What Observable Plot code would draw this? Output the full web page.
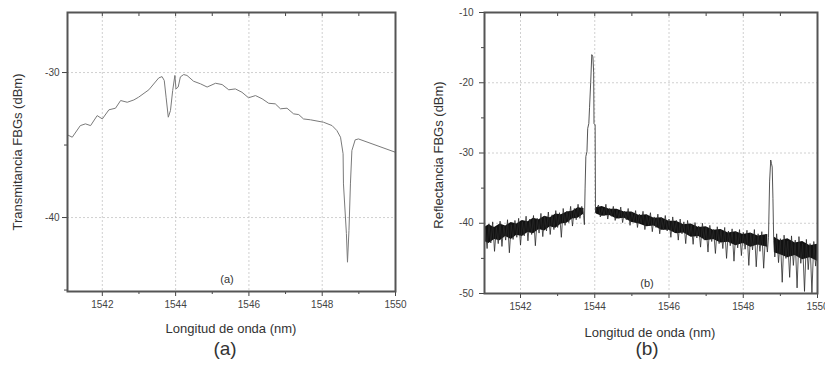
<!DOCTYPE html>
<html><head><meta charset="utf-8">
<script src="https://cdn.jsdelivr.net/npm/d3@7"></script>
<script src="https://cdn.jsdelivr.net/npm/@observablehq/plot@0.6"></script>
<style>
html,body{margin:0;padding:0;background:#fff}
body{width:825px;height:365px;overflow:hidden;position:relative;font-family:"Liberation Sans",Arial,sans-serif}
.panel{position:absolute;top:0}
.lab{position:absolute;color:#333;white-space:nowrap;transform:translate(-50%,-50%)}
.rot{transform:translate(-50%,-50%) rotate(-90deg)}
</style></head><body>
<div id="pa" class="panel" style="left:0px"></div>
<div id="pb" class="panel" style="left:405px"></div>
<div class="lab" style="left:227px;top:279px;font-size:11px">(a)</div>
<div class="lab" style="left:231px;top:328px;font-size:13px">Longitud de onda (nm)</div>
<div class="lab" style="left:225px;top:349px;font-size:19px">(a)</div>
<div class="lab rot" style="left:17px;top:152px;font-size:13px">Transmitancia FBGs (dBm)</div>
<div class="lab" style="left:647px;top:283px;font-size:11px">(b)</div>
<div class="lab" style="left:650px;top:332px;font-size:13px">Longitud de onda (nm)</div>
<div class="lab" style="left:647px;top:349px;font-size:19px">(b)</div>
<div class="lab rot" style="left:438px;top:155px;font-size:13px">Reflectancia FBGs (dBm)</div>
<script>
// ---- Panel (a): transmission spectrum ----
const transWl = [1541.05,1541.18,1541.40,1541.54,1541.68,1541.86,1542.00,1542.18,1542.36,1542.50,
  1542.68,1542.86,1542.99,1543.27,1543.54,1543.63,1543.69,1543.74,1543.80,1543.86,
  1543.92,1543.98,1544.01,1544.07,1544.13,1544.22,1544.31,1544.49,1544.68,1544.86,
  1545.09,1545.27,1545.45,1545.63,1545.81,1545.99,1546.18,1546.36,1546.54,1546.72,
  1546.86,1547.04,1547.22,1547.36,1547.49,1547.68,1548.04,1548.27,1548.40,1548.50,
  1548.57,1548.58,1548.66,1548.69,1548.73,1548.77,1548.81,1548.90,1548.99,1550.00];
const transDbm = [-34.3,-34.46,-33.66,-33.54,-33.66,-32.97,-33.2,-32.57,-32.46,-31.93,
  -32.05,-31.89,-31.7,-31.19,-30.37,-30.28,-30.55,-31.7,-33.08,-32.62,
  -31.24,-30.2,-31.13,-31.0,-30.3,-30.14,-30.2,-30.6,-30.78,-31.0,
  -30.74,-30.83,-31.19,-31.13,-31.36,-31.74,-31.59,-31.81,-32.12,-32.16,
  -32.5,-32.46,-32.85,-32.9,-33.2,-33.26,-33.43,-33.66,-34.0,-34.46,
  -35.6,-37.68,-41.1,-43.08,-40.9,-37.68,-35.38,-34.64,-34.58,-35.5];

// ---- Panel (b): reflection spectrum (noisy trace) ----
const reflWl = [
  1541.00,1541.05,1541.10,1541.15,1541.20,1541.25,1541.30,1541.35,1541.40,1541.45,
  1541.50,1541.55,1541.60,1541.65,1541.70,1541.75,1541.80,1541.85,1541.90,1541.95,
  1542.00,1542.05,1542.10,1542.15,1542.20,1542.25,1542.30,1542.35,1542.40,1542.45,
  1542.50,1542.55,1542.60,1542.65,1542.70,1542.75,1542.80,1542.85,1542.90,1542.95,
  1543.00,1543.05,1543.10,1543.15,1543.20,1543.25,1543.30,1543.35,1543.40,1543.45,
  1543.50,1543.55,1543.60,1543.65,1543.70,
  1543.72,1543.74,1543.76,1543.79,1543.81,1543.84,1543.86,1543.89,1543.92,1543.95,
  1543.97,1543.98,1544.01,1544.02,1544.05,
  1544.10,1544.15,1544.20,1544.25,1544.30,1544.35,1544.40,1544.45,1544.50,1544.55,
  1544.60,1544.65,1544.70,1544.75,1544.80,1544.85,1544.90,1544.95,1545.00,1545.05,
  1545.10,1545.15,1545.20,1545.25,1545.30,1545.35,1545.40,1545.45,1545.50,1545.55,
  1545.60,1545.65,1545.70,1545.75,1545.80,1545.85,1545.90,1545.95,1546.00,1546.05,
  1546.10,1546.15,1546.20,1546.25,1546.30,1546.35,1546.40,1546.45,1546.50,1546.55,
  1546.60,1546.65,1546.70,1546.75,1546.80,1546.85,1546.90,1546.95,1547.00,1547.05,
  1547.10,1547.15,1547.20,1547.25,1547.30,1547.35,1547.40,1547.45,1547.50,1547.55,
  1547.60,1547.65,1547.70,1547.75,1547.80,1547.85,1547.90,1547.95,1548.00,1548.05,
  1548.10,1548.15,1548.20,1548.25,1548.30,1548.35,1548.40,1548.45,1548.50,1548.55,
  1548.60,1548.65,
  1548.68,1548.71,1548.74,1548.76,1548.78,1548.80,1548.82,1548.85,
  1548.90,1548.95,1549.00,1549.05,1549.10,1549.15,1549.20,1549.25,1549.30,1549.35,
  1549.40,1549.45,1549.50,1549.55,1549.60,1549.65,1549.70,1549.75,1549.80,1549.85,
  1549.90,1549.95,1550.00];
const reflDbm = [
  -44.8,-40.9,-43.6,-40.1,-42.8,-39.8,-44.0,-40.6,-42.9,-39.7,
  -43.3,-40.4,-42.4,-39.5,-44.2,-40.2,-42.3,-39.6,-42.0,-39.3,
  -43.1,-39.8,-41.8,-39.0,-42.5,-39.4,-41.6,-38.9,-43.2,-39.3,
  -41.4,-38.6,-41.9,-39.0,-41.1,-38.4,-41.6,-38.8,-40.9,-38.2,
  -40.6,-38.5,-42.0,-37.9,-40.3,-38.3,-39.9,-37.6,-40.4,-37.9,
  -39.5,-37.3,-39.3,-37.6,-38.9,
  -40.2,-35.0,-30.5,-29.8,-26.5,-25.8,-23.5,-20.0,-16.0,-16.3,
  -18.5,-25.8,-26.0,-38.5,-37.9,
  -37.4,-39.1,-37.8,-38.9,-37.3,-39.4,-37.9,-39.0,-37.6,-39.6,
  -38.1,-39.3,-37.7,-39.9,-38.3,-39.5,-37.9,-40.3,-38.4,-39.8,
  -38.2,-40.6,-38.7,-40.0,-38.3,-40.9,-38.8,-40.3,-38.5,-41.2,
  -39.1,-40.6,-38.7,-41.5,-39.2,-40.9,-38.9,-41.1,-39.4,-42.0,
  -39.1,-41.3,-39.6,-42.4,-39.4,-41.5,-39.8,-42.9,-39.6,-41.8,
  -40.2,-43.0,-39.9,-42.1,-40.4,-43.4,-40.0,-42.4,-40.6,-44.1,
  -40.3,-42.6,-40.9,-44.3,-40.5,-42.9,-41.0,-43.6,-40.6,-45.0,
  -41.1,-43.2,-40.8,-45.4,-41.2,-43.5,-40.9,-44.6,-41.3,-43.7,
  -41.0,-46.0,-41.4,-43.8,-40.9,-46.2,-41.5,-44.0,-41.2,-46.4,
  -41.6,-44.1,
  -42.0,-34.0,-31.0,-31.5,-32.0,-36.5,-42.5,-44.8,
  -41.5,-45.6,-42.2,-48.4,-41.7,-45.0,-42.5,-47.7,-41.8,-46.0,
  -42.4,-49.2,-41.9,-45.7,-42.9,-49.7,-42.3,-46.6,-42.9,-49.9,
  -42.6,-46.1,-43.4];

// dense core of the noise band in (b): upper / lower envelope
const bandWl = [1541.03,1541.15,1541.3,1541.45,1541.6,1541.75,1541.9,1542.05,1542.2,1542.35,
  1542.5,1542.65,1542.8,1542.95,1543.1,1543.25,1543.4,1543.55,1543.71,
  1544.04,1544.2,1544.4,1544.6,1544.8,1545.0,1545.2,1545.4,1545.6,1545.8,
  1546.0,1546.2,1546.4,1546.6,1546.8,1547.0,1547.2,1547.4,1547.6,1547.8,
  1548.0,1548.2,1548.4,1548.66,
  1548.84,1549.0,1549.2,1549.4,1549.6,1549.8,1550.0];
const bandUpper = [-40.6,-40.2,-40.6,-40.1,-40.4,-39.9,-40.1,-39.6,-39.8,-39.3,
  -39.5,-39.0,-39.2,-38.7,-38.8,-38.4,-38.3,-37.8,-37.9,
  -37.8,-37.6,-38.0,-38.0,-38.4,-38.4,-38.9,-38.8,-39.3,-39.2,
  -39.7,-39.7,-40.2,-40.1,-40.6,-40.5,-41.0,-40.9,-41.4,-41.2,
  -41.6,-41.4,-41.8,-41.6,
  -42.0,-42.5,-42.2,-42.8,-42.6,-43.2,-43.0];
const bandLower = [-42.6,-42.9,-42.3,-42.5,-41.9,-42.3,-41.7,-41.9,-41.3,-41.5,
  -40.9,-41.1,-40.5,-40.7,-40.1,-40.0,-39.4,-39.3,-38.7,
  -38.7,-39.0,-38.9,-39.4,-39.3,-39.9,-40.1,-40.5,-40.4,-41.0,
  -41.0,-41.5,-41.4,-42.0,-41.9,-42.5,-42.3,-42.8,-42.7,-43.2,
  -42.9,-43.4,-43.1,-43.4,
  -44.2,-44.5,-44.9,-44.6,-45.2,-44.9,-45.4];

// ---- tick values ----
const xMajorTicks = [1542,1544,1546,1548,1550];
const xMinorTicks = [1543,1545,1547,1549];
const yMajorTicksA = [-30,-40];
const yMinorTicksA = [-35,-45];
const yMajorTicksB = [-10,-20,-30,-40,-50];
const yMinorTicksB = [-15,-25,-35,-45];

if (reflWl.length !== reflDbm.length) console.error("length mismatch", reflWl.length, reflDbm.length);
if (bandWl.length !== bandUpper.length || bandWl.length !== bandLower.length) console.error("band length mismatch");

function panel({wl, dbm, xDomain, yDomain, yMajor, yMinor, width, height, mL, mR, mT, mB, stroke, sw, pad, extra = []}) {
  const frameH = height - mT - mB, frameW = width - mL - mR;
  const data = wl.map((x, i) => ({x, y: dbm[i]}));
  const inX = v => v > xDomain[0] && v <= xDomain[1];
  const inY = v => v >= yDomain[0] && v <= yDomain[1];
  const grid = {stroke: "#c4c4c4", strokeOpacity: 1, strokeDasharray: "2,2", strokeWidth: 0.8};
  return Plot.plot({
    width, height, marginLeft: mL, marginRight: mR, marginTop: mT, marginBottom: mB,
    style: {fontFamily: "Liberation Sans, Arial, sans-serif", background: "transparent", overflow: "visible"},
    x: {domain: xDomain},
    y: {domain: yDomain},
    marks: [
      Plot.gridX(xMajorTicks.filter(v => inX(v) && v < xDomain[1]), grid),
      Plot.gridY(yMajor.filter(v => v > yDomain[0] && v < yDomain[1]), grid),
      ...extra,
      Plot.line(data, {x: "x", y: "y", stroke, strokeWidth: sw, clip: true}),
      Plot.tickX(xMajorTicks.filter(inX), {x: d => d, insetTop: frameH, insetBottom: -5, stroke: "#444"}),
      Plot.tickX(xMinorTicks.filter(inX), {x: d => d, insetTop: frameH, insetBottom: -3, stroke: "#444"}),
      Plot.tickX([...xMajorTicks, ...xMinorTicks].filter(v => inX(v) && v < xDomain[1]), {x: d => d, insetBottom: frameH - 4, stroke: "#444"}),
      Plot.tickY(yMajor.filter(inY), {y: d => d, insetRight: frameW, insetLeft: -5, stroke: "#444"}),
      Plot.tickY(yMinor.filter(inY), {y: d => d, insetRight: frameW, insetLeft: -3, stroke: "#444"}),
      Plot.axisX(xMajorTicks.filter(inX), {tickSize: 0, tickPadding: 9, fontSize: 10, fill: "#444", label: null, tickFormat: d => String(d)}),
      Plot.axisY(yMajor.filter(inY), {tickSize: 0, tickPadding: pad, fontSize: 10, fill: "#444", label: null, tickFormat: d => String(d)}),
      Plot.frame({stroke: "#555", strokeWidth: 2})
    ]
  });
}

const band = bandWl.map((x, i) => ({x, up: bandUpper[i], lo: bandLower[i], seg: x < 1543.8 ? 0 : x < 1548.75 ? 1 : 2}));

document.getElementById("pa").append(panel({
  wl: transWl, dbm: transDbm, xDomain: [1541.05, 1550], yDomain: [-45.1, -25.86],
  yMajor: yMajorTicksA, yMinor: yMinorTicksA,
  width: 405, height: 365, mL: 67, mR: 10, mT: 12, mB: 74, stroke: "#7a7a7a", sw: 1, pad: 8
}));
document.getElementById("pb").append(panel({
  wl: reflWl, dbm: reflDbm, xDomain: [1541.03, 1550], yDomain: [-50, -10],
  yMajor: yMajorTicksB, yMinor: yMinorTicksB,
  width: 420, height: 365, mL: 79, mR: 8, mT: 12, mB: 72, stroke: "#2a2a2a", sw: 0.8, pad: 11,
  extra: [Plot.areaY(band, {x: "x", y1: "lo", y2: "up", z: "seg", fill: "#111", clip: true})]
}));
</script>
</body></html>
